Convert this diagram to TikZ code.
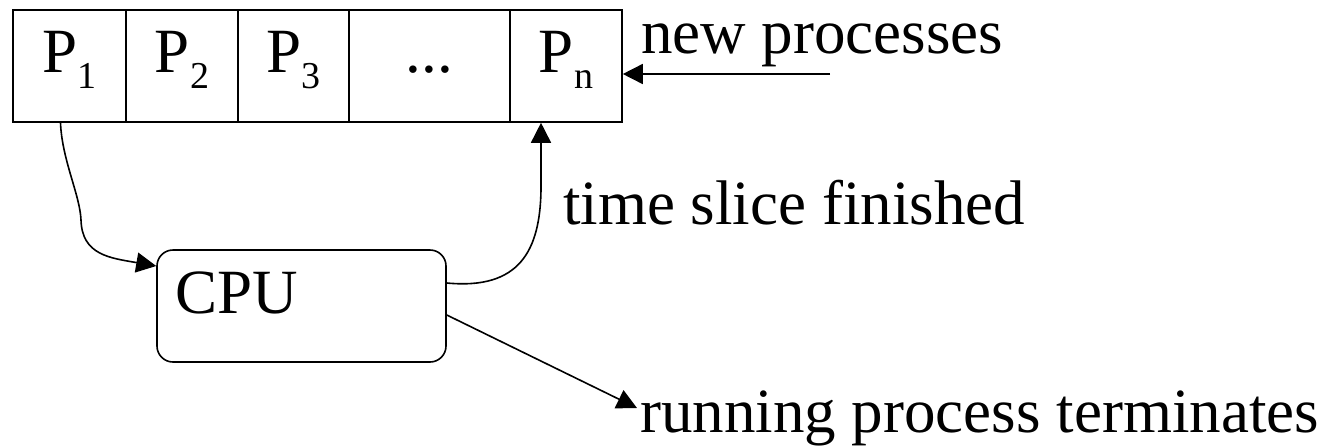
\documentclass[tikz,border=0pt]{standalone}
\usepackage{fontspec}
\setmainfont{Liberation Serif}
\usetikzlibrary{arrows.meta,calc}
\newcommand{\Psub}[1]{P\raisebox{-16pt}{\fontsize{38}{38}\selectfont #1}}
\begin{document}
\begin{tikzpicture}[x=1pt,y=-1pt,
  every node/.style={font=\fontsize{63}{70}\selectfont, inner sep=0pt},
  cell/.style={draw, line width=1.6pt, minimum height=112pt, text height=30pt, text depth=18pt},
  conn/.style={line width=1.6pt, -{Triangle[length=20pt,width=20pt]}},
  lbl/.style={anchor=base west}]
\useasboundingbox (0,0) rectangle (1335,445);
% queue cells
\node[cell, minimum width=113pt] (p1) at (69.5,66) {\Psub{1}};
\node[cell, minimum width=112pt] (p2) at (182,66) {\Psub{2}};
\node[cell, minimum width=111pt] (p3) at (293.5,66) {\Psub{3}};
\node[cell, minimum width=161pt] (dots) at (429.5,66) {...\hspace{49pt}};
\node[cell, minimum width=112pt] (pn) at (566,66) {\Psub{n}};
% CPU
\node[draw, line width=1.6pt, rounded corners=16pt, minimum width=289pt, minimum height=112pt,
      text width=253pt, align=left, text height=30pt, text depth=16pt] (cpu) at (301.5,306) {CPU};
% labels
\node[lbl] (newp) at (641,53) {new processes};
\node[lbl] (slice) at (563,224) {time slice finished};
\node[lbl] (term) at (640,432) {running process terminates};
\coordinate (nps) at (830,74);
% connectors
\draw[conn] ($(p1.south)+(-9,0)$) .. controls (62,160) and (80,195) .. (81,220)
  .. controls (82,255) and (110,258) .. ($(cpu.west)+(0,-40)$);
\draw[conn] ($(cpu.east)+(0,-23)$) .. controls (520,290) and (540,250) .. (541,190)
  -- ($(pn.south)+(-25,0)$);
\draw[conn] ($(cpu.east)+(0,9)$) -- ($(term.base west)+(-3,-24)$);
\draw[conn] (nps) -- ($(pn.east)+(0,8)$);
\end{tikzpicture}
\end{document}
